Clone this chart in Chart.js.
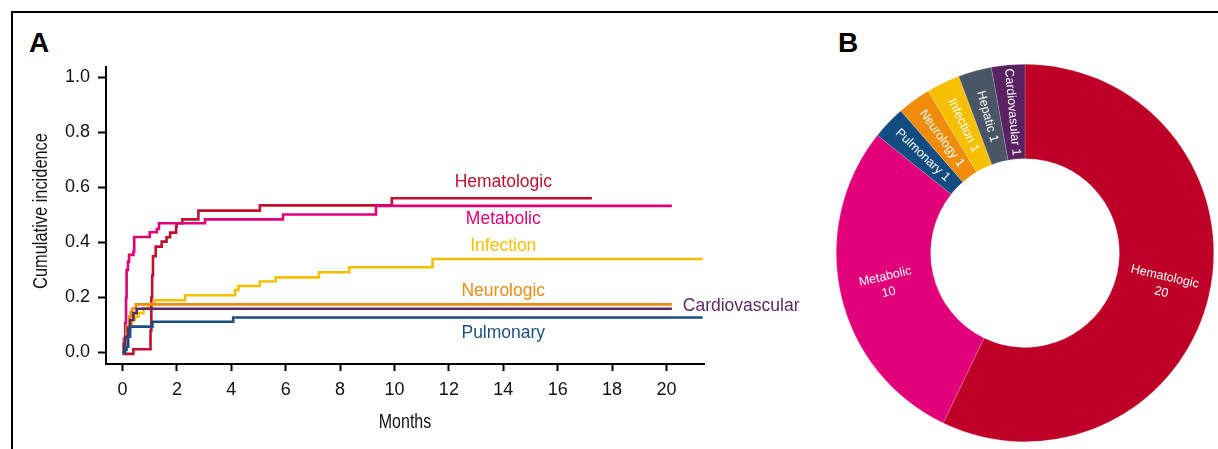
<!DOCTYPE html>
<html>
<head>
<meta charset="utf-8">
<script src="https://cdn.jsdelivr.net/npm/chart.js@4"></script>
<style>
  html, body { margin: 0; padding: 0; background: #fff; }
  body { width: 1218px; height: 449px; position: relative; overflow: hidden; font-family: 'Liberation Sans', Arial, sans-serif; }
  #frame { position: absolute; left: 11px; top: 11px; width: 1300px; height: 500px; border-top: 2px solid #000; border-left: 2px solid #000; }
  .panel { position: absolute; font-weight: bold; font-size: 28px; color: #000; line-height: 1; }
  #wrapA { position: absolute; left: 0; top: 0; width: 820px; height: 449px; }
  #wrapB { position: absolute; left: 836px; top: 64px; width: 378px; height: 378px; }
</style>
</head>
<body>
<div id="frame"></div>
<div class="panel" style="left:29px;top:29px;">A</div>
<div class="panel" style="left:838px;top:29px;">B</div>
<div id="wrapA"><canvas id="chart-ci"></canvas></div>
<div id="wrapB"><canvas id="chart-donut"></canvas></div>
<script>
/* Panel A: cumulative incidence by organ system (month, incidence) */
const xTicks = [0, 2, 4, 6, 8, 10, 12, 14, 16, 18, 20];
const yTicks = [0.0, 0.2, 0.4, 0.6, 0.8, 1.0];

const hemMonths = [0, 0.4, 1.03, 1.06, 1.09, 1.12, 1.22, 1.44, 1.62, 1.75, 1.97, 1.99, 2.2, 2.79, 5.05, 9.9, 17.26];
const hemValues = [-0.005, 0.012, 0.08, 0.2, 0.28, 0.35, 0.385, 0.403, 0.419, 0.436, 0.457, 0.47, 0.484, 0.516, 0.535, 0.561, 0.561];

const metMonths = [0, 0.05, 0.1, 0.13, 0.15, 0.2, 0.24, 0.4, 0.43, 1.0, 1.26, 1.34, 3.03, 5.9, 9.32, 20.2];
const metValues = [0, 0.05, 0.107, 0.2, 0.3, 0.33, 0.355, 0.367, 0.42, 0.437, 0.449, 0.47, 0.484, 0.502, 0.533, 0.533];

const infMonths = [0, 0.05, 0.1, 0.15, 0.21, 0.34, 0.46, 0.58, 0.77, 0.95, 1.19, 2.3, 4.14, 4.26, 5.05, 5.63, 7.22, 8.34, 11.4, 21.33];
const infValues = [0, 0.02, 0.045, 0.076, 0.094, 0.118, 0.13, 0.143, 0.16, 0.176, 0.19, 0.208, 0.227, 0.242, 0.258, 0.273, 0.292, 0.31, 0.34, 0.34];

const neuMonths = [0, 0.08, 0.15, 0.25, 0.3, 0.36, 0.49, 20.2];
const neuValues = [0, 0.05, 0.094, 0.13, 0.148, 0.16, 0.175, 0.175];

const carMonths = [0, 0.05, 0.1, 0.2, 0.28, 0.4, 0.52, 20.2];
const carValues = [0, 0.03, 0.057, 0.09, 0.118, 0.143, 0.159, 0.159];

const pulMonths = [0, 0.1, 0.15, 0.21, 0.28, 1.1, 4.07, 21.33];
const pulValues = [0, 0.01, 0.021, 0.057, 0.094, 0.112, 0.127, 0.127];

const seriesNames = ['Hematologic', 'Metabolic', 'Infection', 'Neurologic', 'Cardiovascular', 'Pulmonary'];
const seriesColors = ['#c20f2f', '#e2007a', '#f6c000', '#ef8c0f', '#5b2a63', '#1b4f83'];
// label anchors in data units (month, incidence)
const labelMonths = [14.0, 14.0, 14.0, 14.0, 20.6, 14.0];
const labelValues = [0.620, 0.485, 0.385, 0.222, 0.167, 0.072];
const labelAlign = ['center', 'center', 'center', 'center', 'left', 'center'];

const xTitle = 'Months';
const yTitle = 'Cumulative incidence';

/* Panel B: adverse events by organ system */
const donutLabels = ['Hematologic', 'Metabolic', 'Pulmonary', 'Neurology', 'Infection', 'Hepatic', 'Cardiovasular'];
const donutCounts = [20, 10, 1, 1, 1, 1, 1];
const donutColors = ['#bf0026', '#e2007a', '#124c80', '#ef8c0a', '#f6c000', '#4a5566', '#5a2262'];

function zipXY(xs, ys) {
    return xs.map((x, i) => ({ x: x, y: ys[i] }));
}

const allSeries = [
    zipXY(hemMonths, hemValues),
    zipXY(metMonths, metValues),
    zipXY(infMonths, infValues),
    zipXY(neuMonths, neuValues),
    zipXY(carMonths, carValues),
    zipXY(pulMonths, pulValues)
];

// order drawn: pulmonary first, hematologic last (on top)
const drawOrder = [5, 4, 3, 2, 1, 0];

const lineLabelPlugin = {
    id: 'lineLabels',
    afterDatasetsDraw(chart) {
        const ctx = chart.ctx;
        const xs = chart.scales.x, ys = chart.scales.y;
        ctx.save();
        ctx.font = '17.5px "Liberation Sans", Arial, sans-serif';
        ctx.textBaseline = 'middle';
        seriesNames.forEach((name, i) => {
            ctx.fillStyle = seriesColors[i];
            ctx.textAlign = labelAlign[i];
            ctx.fillText(name, xs.getPixelForValue(labelMonths[i]), ys.getPixelForValue(labelValues[i]));
        });
        ctx.restore();
    }
};

/* axis titles in a condensed face (squeezed Liberation Sans, no narrow font installed) */
const axisTitlePlugin = {
    id: 'axisTitles',
    afterDraw(chart) {
        const ctx = chart.ctx;
        const a = chart.chartArea;
        ctx.save();
        ctx.font = '20px "Liberation Sans", Arial, sans-serif';
        ctx.fillStyle = '#111';
        ctx.textAlign = 'center';
        ctx.textBaseline = 'middle';
        // x title
        ctx.save();
        ctx.translate((a.left + a.right) / 2, 422);
        ctx.scale(0.8, 1);
        ctx.fillText(xTitle, 0, 0);
        ctx.restore();
        // y title
        ctx.save();
        ctx.translate(41, 211);
        ctx.rotate(-Math.PI / 2);
        ctx.scale(0.82, 1);
        ctx.fillText(yTitle, 0, 0);
        ctx.restore();
        ctx.restore();
    }
};

const donutLabelPlugin = {
    id: 'donutLabels',
    afterDatasetsDraw(chart) {
        const ctx = chart.ctx;
        const arcs = chart.getDatasetMeta(0).data;
        ctx.save();
        ctx.font = '12.5px "Liberation Sans", Arial, sans-serif';
        ctx.fillStyle = '#ffffff';
        ctx.textAlign = 'center';
        ctx.textBaseline = 'middle';
        arcs.forEach((arc, i) => {
            const p = arc.getProps(['x', 'y', 'startAngle', 'endAngle', 'innerRadius', 'outerRadius'], true);
            const mid = (p.startAngle + p.endAngle) / 2;
            const r = (p.innerRadius + p.outerRadius) / 2;
            const rot = Math.cos(mid) >= 0 ? mid : mid + Math.PI;
            const lines = donutCounts[i] >= 10
                ? [donutLabels[i], String(donutCounts[i])]
                : [donutLabels[i] + ' ' + donutCounts[i]];
            ctx.save();
            ctx.translate(p.x + Math.cos(mid) * r, p.y + Math.sin(mid) * r);
            ctx.rotate(rot);
            const lh = 16;
            lines.forEach((t, k) => {
                ctx.fillText(t, 0, (k - (lines.length - 1) / 2) * lh);
            });
            ctx.restore();
        });
        ctx.restore();
    }
};

const axisFont = { family: '"Liberation Sans", Arial, sans-serif', size: 18 };

new Chart(document.getElementById('chart-ci').getContext('2d'), {
    type: 'line',
    data: {
        datasets: drawOrder.map(i => ({
            label: seriesNames[i],
            data: allSeries[i],
            borderColor: seriesColors[i],
            backgroundColor: seriesColors[i],
            borderWidth: 2.6,
            pointRadius: 0,
            fill: false,
            stepped: 'before'
        }))
    },
    options: {
        animation: false,
        responsive: true,
        maintainAspectRatio: false,
        layout: { padding: { left: 0, top: 67, right: 116, bottom: 0 } },
        plugins: { legend: { display: false }, tooltip: { enabled: false } },
        scales: {
            x: {
                type: 'linear',
                min: -0.607,
                max: 21.38,
                afterBuildTicks: s => { s.ticks = xTicks.map(v => ({ value: v })); },
                afterFit: s => { s.height = 85; },
                grid: { drawOnChartArea: false, drawTicks: true, tickLength: 7, tickWidth: 2, tickColor: '#000' },
                border: { display: true, color: '#000', width: 2 },
                ticks: { color: '#111', font: axisFont, padding: 8, maxRotation: 0 }
            },
            y: {
                type: 'linear',
                min: -0.0418,
                max: 1.038,
                afterBuildTicks: s => { s.ticks = yTicks.map(v => ({ value: v })); },
                afterFit: s => { s.width = 106; },
                grid: { drawOnChartArea: false, drawTicks: true, tickLength: 8, tickWidth: 2, tickColor: '#000' },
                border: { display: true, color: '#000', width: 2 },
                ticks: { color: '#111', font: axisFont, padding: 8, callback: v => v.toFixed(1) }
            }
        }
    },
    plugins: [lineLabelPlugin, axisTitlePlugin]
});

new Chart(document.getElementById('chart-donut').getContext('2d'), {
    type: 'doughnut',
    data: {
        labels: donutLabels,
        datasets: [{
            data: donutCounts,
            backgroundColor: donutColors,
            borderColor: 'rgba(255,255,255,0.35)',
            borderWidth: 0.5
        }]
    },
    options: {
        animation: false,
        responsive: true,
        maintainAspectRatio: false,
        cutout: '50%',
        plugins: { legend: { display: false }, tooltip: { enabled: false } }
    },
    plugins: [donutLabelPlugin]
});
</script>
</body>
</html>
